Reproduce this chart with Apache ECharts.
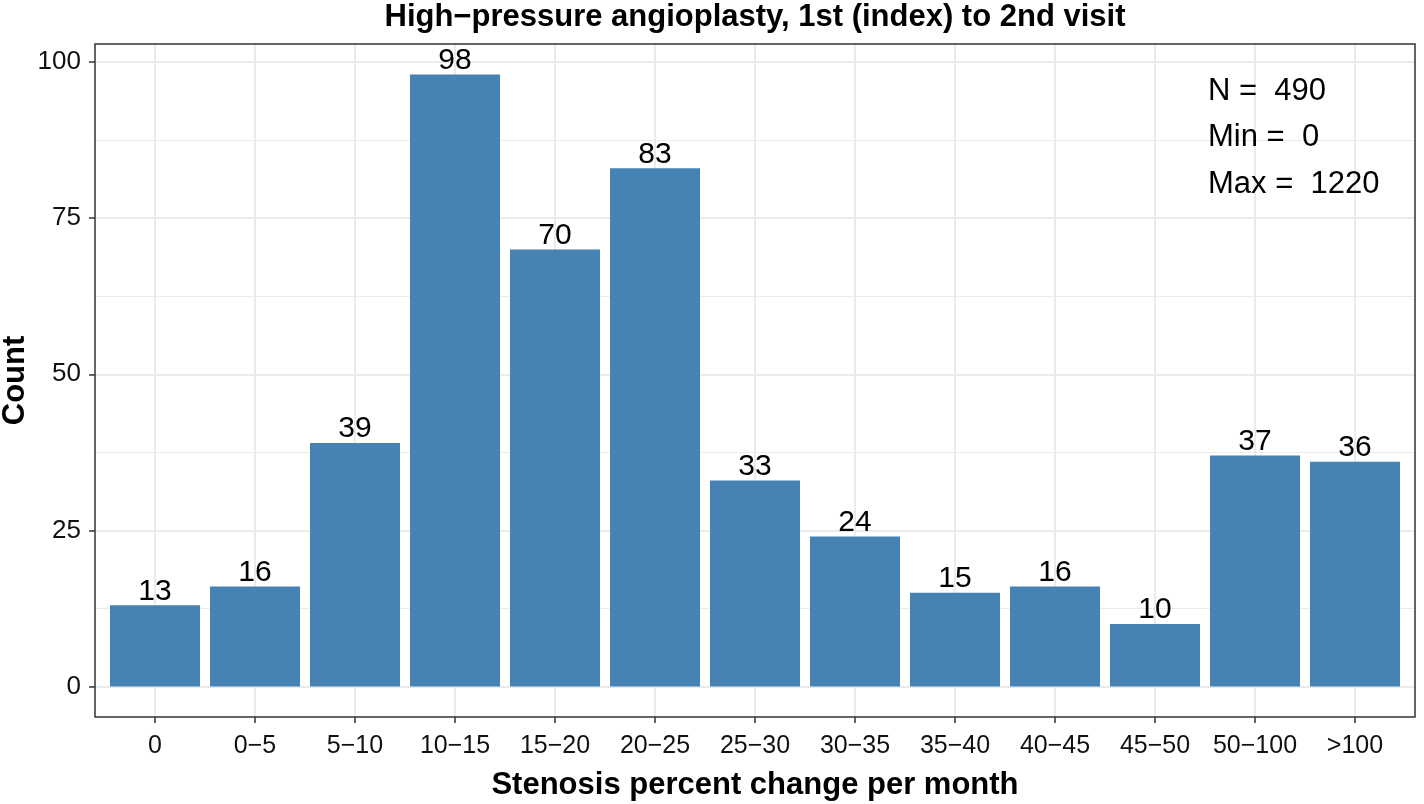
<!DOCTYPE html>
<html><head><meta charset="utf-8">
<script src="https://cdn.jsdelivr.net/npm/echarts@6/dist/echarts.min.js"></script>
<style>html,body{margin:0;padding:0;background:#fff}#c{width:1424px;height:804px}</style>
</head><body><div id="c"></div>
<script>
const categories = ['0','0\u22125','5\u221210','10\u221215','15\u221220','20\u221225','25\u221230','30\u221235','35\u221240','40\u221245','45\u221250','50\u2212100','>100'];
const counts = [13,16,39,98,70,83,33,24,15,16,10,37,36];
const yTicks = [0,25,50,75,100];
const yMinorTicks = [12.5,37.5,62.5,87.5];
const annotations = ['N =  490','Min =  0','Max =  1220'];
const titleText = 'High\u2212pressure angioplasty, 1st (index) to 2nd visit';
const xTitle = 'Stenosis percent change per month';
const yTitle = 'Count';

const FONT = '"Liberation Sans", Arial, Helvetica, sans-serif';
const catIdx = categories.map((c,i)=>i);
const chart = echarts.init(document.getElementById('c'), null, {renderer:'canvas'});
const PL = 95, PR = 1415, PT = 44, PB = 717;

chart.setOption({
  animation:false,
  backgroundColor:'#fff',
  grid:{left:PL, right:1424-PR, top:PT, bottom:804-PB, show:true, borderColor:'#333', borderWidth:1.5, backgroundColor:'transparent', z:3},
  xAxis:{type:'value', min:-0.6, max:12.6,
    axisLine:{show:false, onZero:false},
    axisTick:{show:true, customValues:catIdx, length:6, lineStyle:{color:'#333', width:1.5}},
    axisLabel:{customValues:catIdx, formatter:v=>categories[Math.round(v)], fontSize:25, color:'#111', fontFamily:FONT, margin:17},
    splitLine:{show:true, lineStyle:{color:'#EBEBEB', width:2}}
  },
  yAxis:{type:'value', min:-4.9, max:102.9,
    axisLine:{show:false, onZero:false},
    axisTick:{show:true, customValues:yTicks, length:6, lineStyle:{color:'#333', width:1.5}},
    axisLabel:{customValues:yTicks, fontSize:26, color:'#111', fontFamily:FONT, margin:14},
    splitLine:{show:true, lineStyle:{color:'#EBEBEB', width:2}}
  },
  series:[
    {type:'line', data:[], z:1, silent:true,
     markLine:{silent:true, z:1, symbol:'none', label:{show:false}, lineStyle:{color:'#EBEBEB', width:1, type:'solid'},
       data: yMinorTicks.map(v=>({yAxis:v}))}},
    {type:'bar', z:2, barWidth:'90%',
     data: counts.map((v,i)=>[i,v]),
     itemStyle:{color:'#4682B4'},
     label:{show:true, position:'top', distance:-1, fontSize:30, color:'#000', fontFamily:FONT, formatter:p=>p.value[1]}}
  ],
  graphic:[
    {type:'text', style:{text:titleText, x:(PL+PR)/2, y:17, align:'center', verticalAlign:'middle', font:'bold 31px '+FONT, fill:'#000'}},
    {type:'text', style:{text:xTitle, x:(PL+PR)/2, y:785, align:'center', verticalAlign:'middle', font:'bold 31px '+FONT, fill:'#000'}},
    {type:'text', rotation:Math.PI/2, x:15, y:(PT+PB)/2, style:{text:yTitle, x:0, y:0, align:'center', verticalAlign:'middle', font:'bold 31px '+FONT, fill:'#000'}},
    ...annotations.map((t,i)=>({type:'text', z:10, style:{text:t, x:1208, y:91+i*46.5, align:'left', verticalAlign:'middle', font:'31px '+FONT, fill:'#000'}}))
  ]
});
</script></body></html>
